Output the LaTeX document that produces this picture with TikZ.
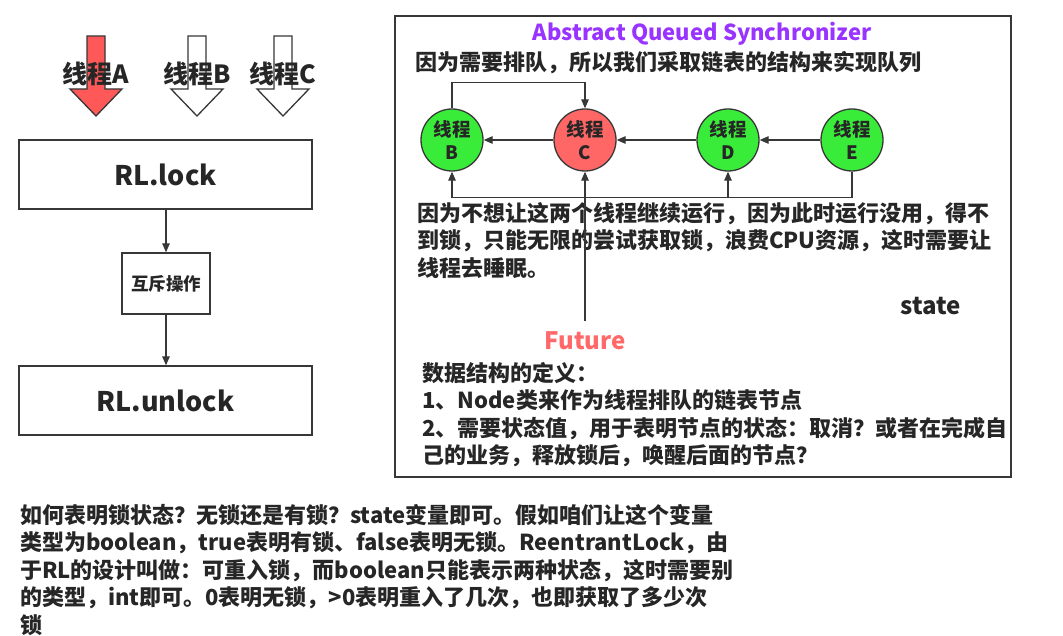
\documentclass[tikz,border=0pt]{standalone}
\usepackage{fontspec}
\setmainfont{Noto Sans CJK SC}
\usepackage{tikz}
\usetikzlibrary{arrows.meta, positioning}

\definecolor{lockred}{RGB}{255,88,88}
\definecolor{nodegreen}{RGB}{58,236,58}
\definecolor{nodered}{RGB}{255,102,102}
\definecolor{aqspurple}{RGB}{153,51,255}
\definecolor{futurered}{RGB}{255,105,105}
\definecolor{ink}{RGB}{55,55,55}

\begin{document}
\begin{tikzpicture}[
    x=1pt, y=-1pt,
    box/.style={rectangle, draw=ink, line width=1.4pt, minimum width=293pt, minimum height=69pt, font=\bfseries\fontsize{27}{30}\selectfont, text=black!85},
    mutexbox/.style={rectangle, draw=ink, line width=1.4pt, minimum width=88pt, minimum height=61pt, font=\bfseries\fontsize{17.5}{20}\selectfont, text=black!85},
    link/.style={-{Triangle[length=9pt, width=7.5pt]}, draw=ink, line width=1.2pt},
    qnode/.style={circle, draw=ink, line width=1.3pt, minimum size=62pt, inner sep=0pt, align=center, font=\bfseries\fontsize{18.5}{23.5}\selectfont, text=black!85},
    threadarrow/.style={draw=ink, line width=1.3pt},
    threadlabel/.style={font=\bfseries\fontsize{25}{28}\selectfont, inner sep=0pt, text=black!85},
    note/.style={font=\bfseries\fontsize{22}{27.5}\selectfont, align=left, anchor=north west, inner sep=0pt, text=black!85}
]
\path[use as bounding box, fill=white] (0,0) rectangle (1063,636);

% Threads waiting for the lock
\foreach \x/\c in {96/lockred, 197/white, 283/white}
    \draw[threadarrow, fill=\c] ({\x-9},36) -- ({\x+9},36) -- ({\x+9},89) -- ({\x+26},89)
        -- (\x,116) -- ({\x-26},89) -- ({\x-9},89) -- cycle;
\node[threadlabel] (thA) at (96,74) {线程A};
\node[threadlabel] (thB) at (197,74) {线程B};
\node[threadlabel] (thC) at (283,74) {线程C};

% Left side - lock / unlock
\node[box] (lock) at (165.5,174.5) {RL.lock};
\node[mutexbox] (mutex) at (166,283.5) {互斥操作};
\node[box] (unlock) at (165.5,400.5) {RL.unlock};
\draw[link] (lock.south -| mutex) -- (mutex);
\draw[link] (mutex) -- (unlock.north -| mutex);

% Right side - AQS
\draw[ink, line width=2pt] (395,16) rectangle (1011,477);
\node[font=\bfseries\fontsize{22}{25}\selectfont, text=aqspurple] (aqs) at (702,34) {Abstract Queued Synchronizer};
\node[note, anchor=west] (why) at (415,63) {因为需要排队，所以我们采取链表的结构来实现队列};

\node[qnode, fill=nodegreen] (qB) at (452,140) {线程\\B};
\node[qnode, fill=nodered] (qC) at (585,140) {线程\\C};
\node[qnode, fill=nodegreen] (qD) at (728,140) {线程\\D};
\node[qnode, fill=nodegreen] (qE) at (852,140) {线程\\E};

\draw[link] (qC) -- (qB);
\draw[link] (qD) -- (qC);
\draw[link] (qE) -- (qD);
\draw[link] (qB.north) -- ++(0,-26) -| (qC.north);
\draw[link] (qE.south) -- ++(0,26) -| (qB.south);
\coordinate (busD) at (728,197);
\draw[link] (busD) -- (qD.south);

\node[note] (sleep) at (417,202) {因为不想让这两个线程继续运行，因为此时运行没用，得不\\到锁，只能无限的尝试获取锁，浪费CPU资源，这时需要让\\线程去睡眠。};
\node[font=\bfseries\fontsize{24}{28}\selectfont, text=black!85] (state) at (931,306) {state};

\node[font=\bfseries\fontsize{24}{28}\selectfont, text=futurered] (future) at (585,341) {Future};
\coordinate (futTop) at (585,321);
\draw[link] (futTop) -- (qC.south);

\node[note] (define) at (422,362) {数据结构的定义：\\1、Node类来作为线程排队的链表节点\\2、需要状态值，用于表明节点的状态：取消？或者在完成自\\己的业务，释放锁后，唤醒后面的节点？};

% Bottom note
\node[note] (statenote) at (20,504) {如何表明锁状态？无锁还是有锁？state变量即可。假如咱们让这个变量\\类型为boolean，true表明有锁、false表明无锁。ReentrantLock，由\\于RL的设计叫做：可重入锁，而boolean只能表示两种状态，这时需要别\\的类型，int即可。0表明无锁，>0表明重入了几次，也即获取了多少次\\锁};

\end{tikzpicture}
\end{document}
